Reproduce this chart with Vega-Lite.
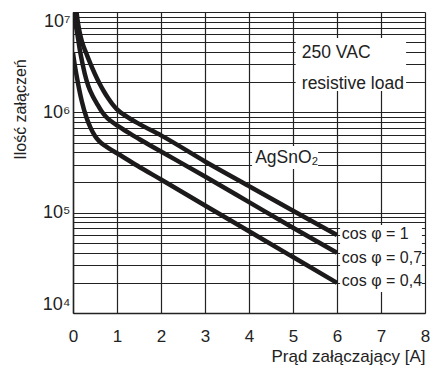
{
  "$schema": "https://vega.github.io/schema/vega-lite/v6.json",
  "width": 352,
  "height": 301,
  "autosize": "none",
  "padding": {"left": 73, "top": 12, "right": 8, "bottom": 52},
  "background": "white",
  "config": {
    "font": "Liberation Sans, Arial, sans-serif",
    "view": {"stroke": null}
  },
  "datasets": {
    "curves": [
      {"series": "cos1", "x": 0.08, "y": 10000000},
      {"series": "cos1", "x": 0.1, "y": 8511000},
      {"series": "cos1", "x": 0.15, "y": 6310000},
      {"series": "cos1", "x": 0.2, "y": 5129000},
      {"series": "cos1", "x": 0.3, "y": 3890000},
      {"series": "cos1", "x": 0.4, "y": 3020000},
      {"series": "cos1", "x": 0.5, "y": 2399000},
      {"series": "cos1", "x": 0.6, "y": 1950000},
      {"series": "cos1", "x": 0.7, "y": 1622000},
      {"series": "cos1", "x": 0.8, "y": 1380000},
      {"series": "cos1", "x": 0.9, "y": 1202000},
      {"series": "cos1", "x": 1.0, "y": 1072000},
      {"series": "cos1", "x": 1.25, "y": 891000},
      {"series": "cos1", "x": 1.5, "y": 767000},
      {"series": "cos1", "x": 2.0, "y": 589000},
      {"series": "cos1", "x": 3.0, "y": 324000},
      {"series": "cos1", "x": 4.0, "y": 184000},
      {"series": "cos1", "x": 5.0, "y": 104700},
      {"series": "cos1", "x": 6.0, "y": 59840},
      {"series": "cos07", "x": 0.03, "y": 10000000},
      {"series": "cos07", "x": 0.05, "y": 8318000},
      {"series": "cos07", "x": 0.1, "y": 6026000},
      {"series": "cos07", "x": 0.16, "y": 4074000},
      {"series": "cos07", "x": 0.2, "y": 3311000},
      {"series": "cos07", "x": 0.27, "y": 2399000},
      {"series": "cos07", "x": 0.35, "y": 1820000},
      {"series": "cos07", "x": 0.45, "y": 1445000},
      {"series": "cos07", "x": 0.54, "y": 1230000},
      {"series": "cos07", "x": 0.65, "y": 1023000},
      {"series": "cos07", "x": 0.75, "y": 902000},
      {"series": "cos07", "x": 0.87, "y": 813000},
      {"series": "cos07", "x": 1.0, "y": 741000},
      {"series": "cos07", "x": 1.25, "y": 631000},
      {"series": "cos07", "x": 1.5, "y": 543000},
      {"series": "cos07", "x": 2.0, "y": 407000},
      {"series": "cos07", "x": 3.0, "y": 229000},
      {"series": "cos07", "x": 4.0, "y": 127400},
      {"series": "cos07", "x": 5.0, "y": 70800},
      {"series": "cos07", "x": 6.0, "y": 39800},
      {"series": "cos04", "x": 0.0, "y": 3890000},
      {"series": "cos04", "x": 0.04, "y": 2951000},
      {"series": "cos04", "x": 0.08, "y": 2344000},
      {"series": "cos04", "x": 0.14, "y": 1698000},
      {"series": "cos04", "x": 0.2, "y": 1288000},
      {"series": "cos04", "x": 0.3, "y": 902000},
      {"series": "cos04", "x": 0.4, "y": 700000},
      {"series": "cos04", "x": 0.5, "y": 582000},
      {"series": "cos04", "x": 0.6, "y": 513000},
      {"series": "cos04", "x": 0.75, "y": 457000},
      {"series": "cos04", "x": 0.87, "y": 422000},
      {"series": "cos04", "x": 1.0, "y": 391000},
      {"series": "cos04", "x": 1.5, "y": 287000},
      {"series": "cos04", "x": 2.0, "y": 214000},
      {"series": "cos04", "x": 3.0, "y": 118000},
      {"series": "cos04", "x": 4.0, "y": 65300},
      {"series": "cos04", "x": 5.0, "y": 36100},
      {"series": "cos04", "x": 6.0, "y": 19950}
    ],
    "boxes": [
      {"x": 5.06, "x2": 7.57, "y": 1630000, "y2": 5500000},
      {"x": 4.07, "x2": 5.57, "y": 272000, "y2": 461000},
      {"x": 6.07, "x2": 7.93, "y": 16200, "y2": 75400}
    ],
    "labels": [
      {"kind": "note", "x": 5.2, "y": 3480000, "text": "250 VAC"},
      {"kind": "note", "x": 5.2, "y": 1710000, "text": "resistive load"},
      {"kind": "note", "x": 4.14, "y": 313000, "text": "AgSnO₂"},
      {"kind": "cos", "x": 6.11, "y": 54700, "text": "cos φ = 1"},
      {"kind": "cos", "x": 6.11, "y": 31500, "text": "cos φ = 0,7"},
      {"kind": "cos", "x": 6.11, "y": 18600, "text": "cos φ = 0,4"}
    ]
  },
  "encoding": {
    "x": {
      "field": "x",
      "type": "quantitative",
      "scale": {"domain": [0, 8], "nice": false, "zero": false},
      "axis": {
        "title": "Prąd załączający [A]",
        "values": [0, 1, 2, 3, 4, 5, 6, 7, 8],
        "grid": true,
        "gridColor": "#222",
        "gridWidth": 1.2,
        "ticks": false,
        "tickSize": 0,
        "domainColor": "#222",
        "domainWidth": 1.5,
        "labelFontSize": 17,
        "labelColor": "#222",
        "labelPadding": 15,
        "labelFlush": false,
        "titleFontSize": 17,
        "titleFontWeight": "normal",
        "titleColor": "#222",
        "titleAnchor": "end",
        "titleAlign": "right",
        "titleBaseline": "alphabetic",
        "titleX": 352,
        "titleY": 48
      }
    },
    "y": {
      "field": "y",
      "type": "quantitative",
      "scale": {"type": "log", "domain": [10000, 10000000], "nice": false},
      "axis": {
        "title": "Ilość załączeń",
        "values": [10000, 20000, 30000, 40000, 50000, 60000, 70000, 80000, 90000, 100000, 200000, 300000, 400000, 500000, 600000, 700000, 800000, 900000, 1000000, 2000000, 3000000, 4000000, 5000000, 6000000, 7000000, 8000000, 9000000, 10000000],
        "labelExpr": "datum.value == 10000 ? '10⁴' : datum.value == 100000 ? '10⁵' : datum.value == 1000000 ? '10⁶' : datum.value == 10000000 ? '10⁷' : ''",
        "grid": true,
        "gridColor": "#222",
        "gridWidth": 1,
        "ticks": false,
        "tickSize": 0,
        "domainColor": "#222",
        "domainWidth": 1.5,
        "labelFontSize": 18,
        "labelColor": "#222",
        "labelPadding": 3,
        "labelFlush": true,
        "labelOverlap": false,
        "titleFontSize": 16,
        "titleFontWeight": "normal",
        "titleColor": "#222",
        "titleAngle": -90,
        "titleAlign": "center",
        "titleBaseline": "alphabetic",
        "titleX": -48,
        "titleY": 97
      }
    }
  },
  "layer": [
    {
      "data": {"name": "boxes"},
      "mark": {"type": "rect", "fill": "white", "strokeWidth": 0},
      "encoding": {
        "x2": {"field": "x2"},
        "y2": {"field": "y2"}
      }
    },
    {
      "data": {"name": "curves"},
      "mark": {"type": "line", "color": "#1c1a1a", "strokeWidth": 4.5, "interpolate": "monotone", "clip": true},
      "encoding": {
        "detail": {"field": "series"}
      }
    },
    {
      "data": {"name": "labels"},
      "transform": [{"filter": "datum.kind == 'note'"}],
      "mark": {"type": "text", "align": "left", "baseline": "alphabetic", "fontSize": 17.5, "color": "#222"},
      "encoding": {"text": {"field": "text"}}
    },
    {
      "data": {"name": "labels"},
      "transform": [{"filter": "datum.kind == 'cos'"}],
      "mark": {"type": "text", "align": "left", "baseline": "alphabetic", "fontSize": 16, "color": "#222"},
      "encoding": {"text": {"field": "text"}}
    }
  ]
}
